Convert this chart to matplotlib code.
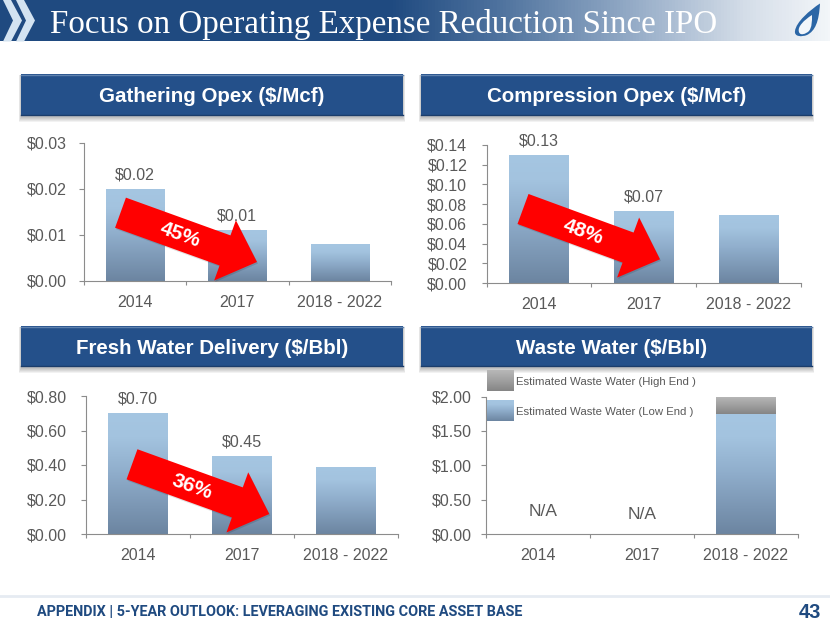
import numpy as np
import matplotlib
matplotlib.use('Agg')
import matplotlib.pyplot as plt
from matplotlib.colors import LinearSegmentedColormap
from matplotlib.patches import Polygon, Rectangle, PathPatch
from matplotlib.path import Path
from matplotlib.transforms import Affine2D

W, H = 830, 623

years = ['2014', '2017', '2018 - 2022']

gathering = [0.02, 0.011, 0.008]
gathering_labels = ['$0.02', '$0.01', '']
gathering_ticks = [0.00, 0.01, 0.02, 0.03]

compression = [0.13, 0.073, 0.069]
compression_labels = ['$0.13', '$0.07', '']
compression_ticks = [0.00, 0.02, 0.04, 0.06, 0.08, 0.10, 0.12, 0.14]

fresh = [0.70, 0.45, 0.39]
fresh_labels = ['$0.70', '$0.45', '']
fresh_ticks = [0.00, 0.20, 0.40, 0.60, 0.80]

waste_low = [0, 0, 1.75]
waste_high = [0, 0, 0.25]
waste_ticks = [0.00, 0.50, 1.00, 1.50, 2.00]
na_y = [0.32, 0.29]

GREY = '#595959'
NAVY = '#24508A'
plt.rcParams['font.family'] = ['Liberation Sans', 'DejaVu Sans']

blue_cm = LinearSegmentedColormap.from_list('b', [(0, '#6C85A1'), (0.5, '#8FADCB'), (0.8, '#A3C3DF'), (1, '#A5C6E2')])
grey_cm = LinearSegmentedColormap.from_list('g', ['#858585', '#A0A0A0', '#B8B8B8'])
grad = np.linspace(0, 1, 128).reshape(-1, 1)


def px_axes(fig, ax_box):
    # ax_box is left, top, right, bottom in pixels of the picture
    l, t, r, b = ax_box
    return fig.add_axes([l / W, 1 - b / H, (r - l) / W, (b - t) / H])


def fill_gradient(ax, rect, cmap):
    x, y, w, h = rect.get_x(), rect.get_y(), rect.get_width(), rect.get_height()
    im = ax.imshow(grad, extent=[x, x + w, y, y + h], origin='lower', aspect='auto',
                   cmap=cmap, vmin=0, vmax=1, zorder=2)
    im.set_clip_path(rect)
    rect.set_facecolor('none')


def style_axes(ax, ticks, pad):
    ax.set_xlim(-0.5, 2.5)
    ax.set_ylim(ticks[0], ticks[-1])
    ax.set_yticks(ticks)
    ax.set_yticklabels(['$%.2f' % t for t in ticks])
    ax.set_xticks([-0.5, 0.5, 1.5, 2.5])
    ax.set_xticklabels([])
    ax.set_xticks([0, 1, 2], minor=True)
    ax.set_xticklabels(years, minor=True)
    ax.tick_params(axis='x', which='minor', length=0, pad=10, labelsize=11.5, labelcolor=GREY)
    ax.tick_params(axis='x', which='major', length=3, color='#8C8C8C', width=0.8)
    ax.tick_params(axis='y', length=3.5, pad=pad, color='#8C8C8C', width=0.8, labelsize=11.5, labelcolor=GREY)
    for s in ['top', 'right']:
        ax.spines[s].set_visible(False)
    for s in ['left', 'bottom']:
        ax.spines[s].set_color('#8C8C8C')
        ax.spines[s].set_linewidth(0.8)
    ax.patch.set_alpha(0)


def bar_panel(fig, box, values, labels, ticks, pad):
    ax = px_axes(fig, box)
    bars = ax.bar(range(3), values, width=0.57, linewidth=0, zorder=2)
    for b in bars:
        fill_gradient(ax, b, blue_cm)
    for i, lab in enumerate(labels):
        if lab:
            ax.annotate(lab, (i, values[i]), xytext=(0, 10.3), textcoords='offset points',
                        ha='center', va='center', fontsize=11.5, color=GREY, zorder=3)
    style_axes(ax, ticks, pad)
    return ax


def red_arrow(ax, tail, tip, label):
    tail = np.array(tail, float)
    tip = np.array(tip, float)
    d = tip - tail
    length = np.hypot(*d)
    u = d / length
    n = np.array([-u[1], u[0]])
    neck = tip - u * 34
    pts = [tail - n * 16, neck - n * 16, neck - n * 32, tip,
           neck + n * 32, neck + n * 16, tail + n * 16]
    ax.add_patch(Polygon(pts, closed=True, facecolor='#000000', alpha=0.12, linewidth=0,
                         transform=Affine2D().translate(1, 1.5) + ax.transData))
    ax.add_patch(Polygon(pts, closed=True, facecolor='#FF0000', linewidth=0))
    mid = tail + u * 64 + n * 1
    ang = np.degrees(np.arctan2(d[1], d[0]))
    ax.text(mid[0], mid[1], label, rotation=-ang, rotation_mode='anchor', ha='center', va='center',
            color='white', fontsize=15, fontweight='bold')


def header(ax, x0, x1, y0, y1, text, shift=0):
    for k in range(1, 6):
        ax.add_patch(Rectangle((x0 - k * 0.4, y0 + 1), x1 - x0 + k * 0.8, y1 - y0 + k * 0.9,
                               facecolor='#000000', alpha=0.05, linewidth=0))
    ax.add_patch(Rectangle((x0, y0), x1 - x0, y1 - y0, facecolor=NAVY, linewidth=0))
    ax.plot([x0, x1], [y0 + 0.7, y0 + 0.7], color='#5F82AE', lw=1)
    ax.plot([x0, x1], [y1 - 0.7, y1 - 0.7], color='#1B3D6B', lw=1)
    ax.text((x0 + x1) / 2 + shift, (y0 + y1) / 2 + 1.5, text, color='white', fontsize=14.8,
            fontweight='bold', ha='center', va='center')


fig = plt.figure(figsize=(W / 100, H / 100), dpi=100, facecolor='white')

# page furniture, in pixel coordinates
bg = fig.add_axes([0, 0, 1, 1])
bg.axis('off')

banner_cm = LinearSegmentedColormap.from_list('banner', [
    (0, '#1F4A80'), (0.47, '#1F4A80'), (0.60, '#4E729E'), (0.75, '#8FA7C4'),
    (0.90, '#D5DEE9'), (1, '#F3F6F9')])
bg.imshow(np.linspace(0, 1, 256).reshape(1, -1), extent=[0, W, 41.5, 0], aspect='auto', cmap=banner_cm)
bg.set_xlim(0, W)
bg.set_ylim(H, 0)

for off in [0, 13]:
    bg.add_patch(Polygon([(3 + off, 0), (11 + off, 0), (22 + off, 20.5), (11 + off, 41.5), (3 + off, 41.5), (13 + off, 20.5)],
                         closed=True, facecolor='#D3E3F1', linewidth=0))

C = Path.CURVE4
flame_out = Path([(820, 3.5), (810, 10), (796, 22), (795, 31), (794, 37), (802, 37), (807, 35),
                  (815, 31), (819, 22), (820, 3.5)],
                 [Path.MOVETO, C, C, C, C, C, C, C, C, C])
flame_in = Path([(812, 15), (804, 20), (797, 27), (799, 32), (800, 36), (806, 34), (809, 31),
                 (812, 27), (812, 22), (812, 15)],
                [Path.MOVETO, C, C, C, C, C, C, C, C, C])
bg.add_patch(PathPatch(flame_out, facecolor='#2B66A6', linewidth=0))
bg.add_patch(PathPatch(flame_in, facecolor='#F2F6FA', linewidth=0))

bg.text(50, 33, 'Focus on Operating Expense Reduction Since IPO', color='white', fontsize=23.8,
        family='Liberation Serif', ha='left', va='baseline')

header(bg, 21, 403, 74, 116, 'Gathering Opex ($/Mcf)')
header(bg, 421, 812, 74, 116, 'Compression Opex ($/Mcf)')
header(bg, 21, 403, 326, 367, 'Fresh Water Delivery ($/Bbl)')
header(bg, 421, 812, 326, 367, 'Waste Water ($/Bbl)', shift=-4.5)

bg.plot([0, W], [595.5, 595.5], color='#E6EBF2', lw=2)
bg.text(37, 612, 'APPENDIX | 5-YEAR OUTLOOK: LEVERAGING EXISTING CORE ASSET BASE', color='#1F4A80',
        fontsize=10.4, fontweight='bold', family=['Roboto', 'Liberation Sans'],
        ha='left', va='center')
bg.text(821, 612, '43', color='#1F4A80', fontsize=14.5, fontweight='bold', ha='right', va='center')

# the four charts
bar_panel(fig, (83.5, 143, 391, 281), gathering, gathering_labels, gathering_ticks, 8.7)
bar_panel(fig, (486.7, 145, 800.7, 283), compression, compression_labels, compression_ticks, 10.5)
bar_panel(fig, (85.7, 396, 398, 534), fresh, fresh_labels, fresh_ticks, 9.8)

ax4 = px_axes(fig, (485.7, 396.5, 798, 534))
low = ax4.bar(range(3), waste_low, width=0.57, linewidth=0, zorder=2)
high = ax4.bar(range(3), waste_high, bottom=waste_low, width=0.57, linewidth=0, zorder=2)
fill_gradient(ax4, low[2], blue_cm)
fill_gradient(ax4, high[2], grey_cm)
ax4.text(0.05, na_y[0], 'N/A', ha='center', va='center', fontsize=12.5, color=GREY)
ax4.text(1, na_y[1], 'N/A', ha='center', va='center', fontsize=12.5, color=GREY)
style_axes(ax4, waste_ticks, 6.5)

# overlay for arrows and the hand-made legend
top = fig.add_axes([0, 0, 1, 1], zorder=5)
top.axis('off')

for (y0, y1, cm, lab) in [(371, 391.5, grey_cm, 'Estimated Waste Water (High End )'),
                          (401, 421.5, blue_cm, 'Estimated Waste Water (Low End )')]:
    top.imshow(grad, extent=[486.7, 512.7, y1, y0], origin='lower', aspect='auto', cmap=cm, vmin=0, vmax=1)
    top.text(516, (y0 + y1) / 2 + 0.8, lab, fontsize=8.2, color=GREY, ha='left', va='center')
top.set_xlim(0, W)
top.set_ylim(H, 0)

red_arrow(top, (120.5, 212.7), (257, 262), '45%')
red_arrow(top, (523, 209), (660, 259.3), '48%')
red_arrow(top, (132, 464.3), (269.3, 514), '36%')

fig.savefig('out.png', dpi=100)
